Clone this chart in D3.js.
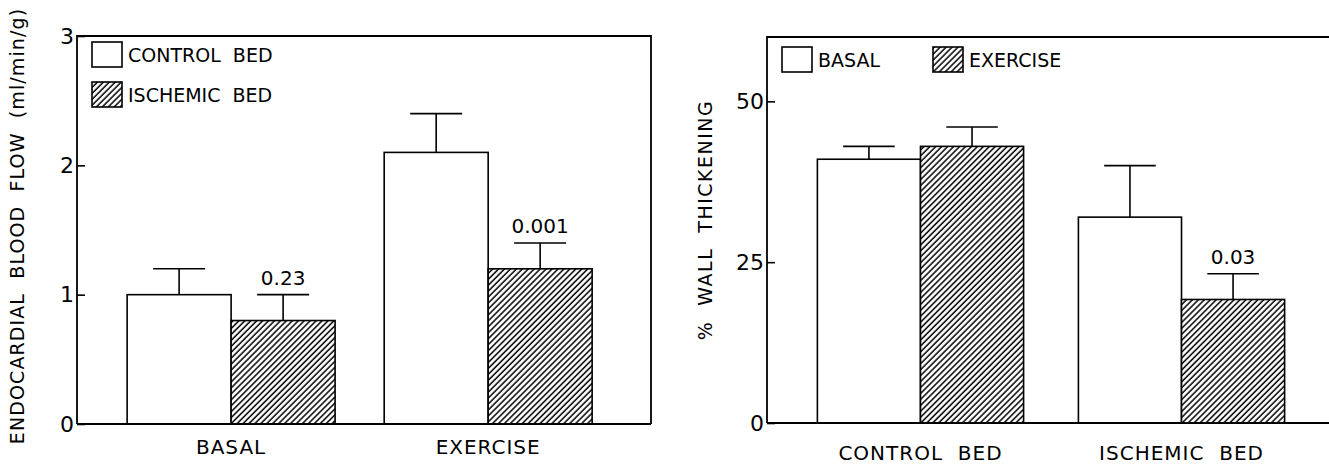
<!DOCTYPE html>
<html>
<head>
<meta charset="utf-8">
<script src="https://cdn.jsdelivr.net/npm/d3@7"></script>
<style>
  body { margin: 0; background: #fff; }
  svg { display: block; }
  text { font-family: "DejaVu Sans", sans-serif; fill: #000; }
</style>
</head>
<body>
<svg width="1329" height="464"></svg>
<script>
// left panel: endocardial blood flow
var flowGroups = ["BASAL", "EXERCISE"];
var flowControl = [1.0, 2.1];
var flowControlErr = [1.2, 2.4];
var flowIschemic = [0.8, 1.2];
var flowIschemicErr = [1.0, 1.4];
var flowP = ["0.23", "0.001"];
var flowTicks = [0, 1, 2, 3];

// right panel: wall thickening
var wallGroups = ["CONTROL BED", "ISCHEMIC BED"];
var wallBasal = [41, 32];
var wallBasalErr = [43, 40];
var wallExercise = [43, 19.2];
var wallExerciseErr = [46, 23.2];
var wallP = ["", "0.03"];
var wallTicks = [0, 25, 50];

var svg = d3.select("svg");

// hatch pattern "////"
var defs = svg.append("defs");
var pat = defs.append("pattern")
  .attr("id", "hatch")
  .attr("patternUnits", "userSpaceOnUse")
  .attr("width", 4.2)
  .attr("height", 10)
  .attr("patternTransform", "rotate(45)");
pat.append("rect").attr("width", 4.2).attr("height", 10).attr("fill", "#fff");
pat.append("line")
  .attr("x1", 1).attr("y1", 0).attr("x2", 1).attr("y2", 10)
  .attr("stroke", "#000").attr("stroke-width", 1.5);

function drawPanel(cfg) {
  var g = svg.append("g");
  var x = d3.scaleBand().domain(cfg.groups)
    .range([cfg.left, cfg.xEnd])
    .paddingInner(cfg.pi).paddingOuter(cfg.po).align(cfg.align);
  var y = d3.scaleLinear().domain([0, cfg.ymax]).range([cfg.bottom, cfg.top]);
  var bw = x.bandwidth() / 2;

  var rows = cfg.groups.map(function(gr, i) {
    return [
      {g: gr, k: 0, v: cfg.a[i], e: cfg.aErr[i], p: ""},
      {g: gr, k: 1, v: cfg.b[i], e: cfg.bErr[i], p: cfg.p[i]}
    ];
  }).flat();

  // bars
  g.selectAll("rect.bar").data(rows).enter().append("rect")
    .attr("class", "bar")
    .attr("x", function(d) { return x(d.g) + d.k * bw; })
    .attr("y", function(d) { return y(d.v); })
    .attr("width", bw)
    .attr("height", function(d) { return y(0) - y(d.v); })
    .attr("fill", function(d) { return d.k ? "url(#hatch)" : "#fff"; })
    .attr("stroke", "#000").attr("stroke-width", 1.6);

  // error bars (upper only)
  g.selectAll("line.err").data(rows).enter().append("line")
    .attr("x1", function(d) { return x(d.g) + d.k * bw + bw / 2; })
    .attr("x2", function(d) { return x(d.g) + d.k * bw + bw / 2; })
    .attr("y1", function(d) { return y(d.v); })
    .attr("y2", function(d) { return y(d.e); })
    .attr("stroke", "#000").attr("stroke-width", 1.6);
  g.selectAll("line.cap").data(rows).enter().append("line")
    .attr("x1", function(d) { return x(d.g) + d.k * bw + bw * 0.25; })
    .attr("x2", function(d) { return x(d.g) + d.k * bw + bw * 0.75; })
    .attr("y1", function(d) { return y(d.e); })
    .attr("y2", function(d) { return y(d.e); })
    .attr("stroke", "#000").attr("stroke-width", 1.6);

  // p values
  g.selectAll("text.p").data(rows.filter(function(d) { return d.p; })).enter().append("text")
    .attr("x", function(d) { return x(d.g) + d.k * bw + bw / 2; })
    .attr("y", function(d) { return y(d.e) - 10; })
    .attr("text-anchor", "middle")
    .attr("font-size", 20)
    .text(function(d) { return d.p; });

  // frame
  var fr = cfg.frameRight;
  var path = "M" + cfg.left + "," + cfg.bottom + "V" + cfg.top + "H" + fr;
  if (cfg.closed) path += "V" + cfg.bottom;
  g.append("path").attr("d", path).attr("fill", "none")
    .attr("stroke", "#000").attr("stroke-width", 1.8);
  g.append("line")
    .attr("x1", cfg.left).attr("x2", fr)
    .attr("y1", cfg.bottom).attr("y2", cfg.bottom)
    .attr("stroke", "#000").attr("stroke-width", 1.8);

  // y axis with inward ticks
  var ax = g.append("g").attr("transform", "translate(" + cfg.left + ",0)")
    .call(d3.axisRight(y).tickValues(cfg.ticks).tickFormat(d3.format("d")).tickSize(8).tickPadding(0));
  ax.select(".domain").remove();
  ax.selectAll("line").attr("stroke", "#000").attr("stroke-width", 1.6);
  ax.selectAll("text")
    .attr("x", -3).attr("text-anchor", "end")
    .attr("font-size", 22)
    .style("font-family", "DejaVu Sans");

  // category labels
  g.selectAll("text.cat").data(cfg.groups).enter().append("text")
    .attr("x", function(d) { return x(d) + x.bandwidth() / 2; })
    .attr("y", cfg.catY)
    .attr("text-anchor", "middle")
    .attr("font-size", 20)
    .attr("letter-spacing", 1)
    .attr("xml:space", "preserve")
    .text(function(d) { return d.replace(" ", "  "); });

  // y title
  g.append("text")
    .attr("transform", "translate(" + cfg.titleX + "," + ((cfg.top + cfg.bottom) / 2 + cfg.titleShift) + ") rotate(-90)")
    .attr("text-anchor", "middle")
    .attr("font-size", 19)
    .attr("letter-spacing", cfg.titleSpacing)
    .attr("xml:space", "preserve")
    .text(cfg.title);

  // legend
  cfg.legend.forEach(function(l, i) {
    g.append("rect")
      .attr("x", l.x).attr("y", l.y)
      .attr("width", 30).attr("height", 25)
      .attr("fill", i ? "url(#hatch)" : "#fff")
      .attr("stroke", "#000").attr("stroke-width", 1.6);
    g.append("text")
      .attr("x", l.x + 36).attr("y", l.y + 20)
      .attr("font-size", 19)
      .attr("xml:space", "preserve")
      .text(l.label);
  });
}

drawPanel({
  groups: flowGroups, a: flowControl, aErr: flowControlErr,
  b: flowIschemic, bErr: flowIschemicErr, p: flowP, ticks: flowTicks,
  ymax: 3, left: 77, xEnd: 651, frameRight: 651, closed: true,
  top: 36, bottom: 424, pi: 0.191, po: 0.212, align: 0.46,
  catY: 454, title: "ENDOCARDIAL  BLOOD  FLOW  (ml/min/g)", titleX: 24, titleShift: -4, titleSpacing: 1.1,
  legend: [{x: 92, y: 42, label: "CONTROL  BED"}, {x: 92, y: 82, label: "ISCHEMIC  BED"}]
});

drawPanel({
  groups: wallGroups, a: wallBasal, aErr: wallBasalErr,
  b: wallExercise, bErr: wallExerciseErr, p: wallP, ticks: wallTicks,
  ymax: 60, left: 767, xEnd: 1335, frameRight: 1329, closed: false,
  top: 37, bottom: 423, pi: 0.21, po: 0.193, align: 0.5,
  catY: 460, title: "%  WALL  THICKENING", titleX: 712, titleShift: -10, titleSpacing: 1.5,
  legend: [{x: 782, y: 47, label: "BASAL"}, {x: 933, y: 47, label: "EXERCISE"}]
});
</script>
</body>
</html>
